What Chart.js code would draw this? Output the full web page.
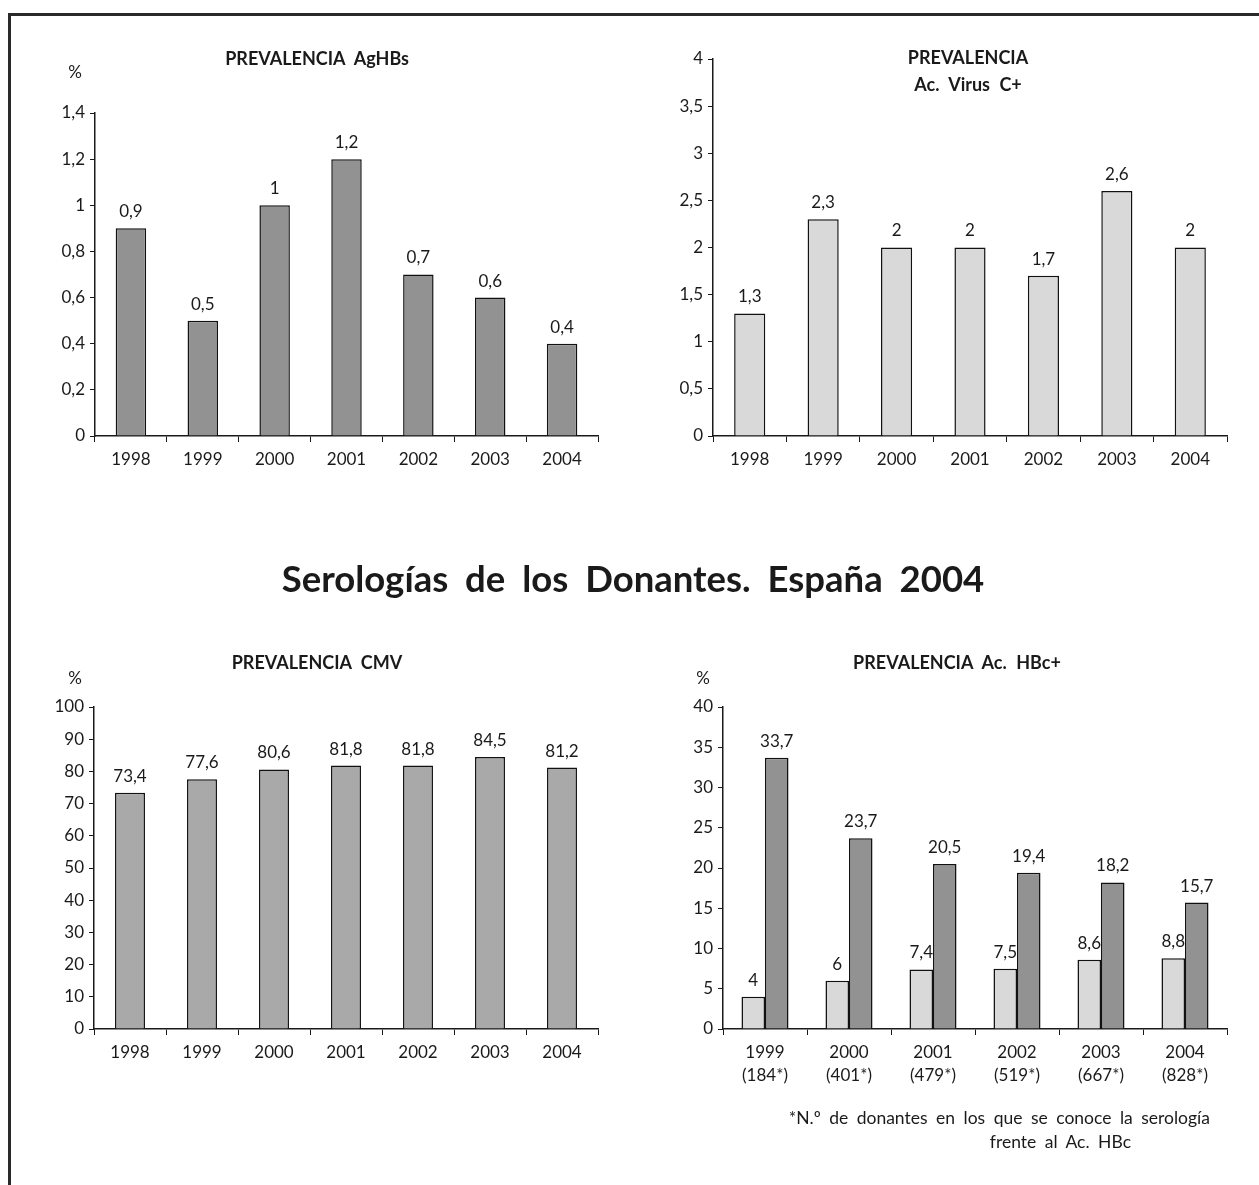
<!DOCTYPE html>
<html>
<head>
<meta charset="utf-8">
<title>Serologías de los Donantes. España 2004</title>
<script src="https://cdn.jsdelivr.net/npm/chart.js@4.4.1/dist/chart.umd.min.js"></script>
<style>
  body { margin: 0; background: #fff; font-family: Lato, sans-serif; color: #1a1a1a; }
  #page { position: relative; width: 1259px; height: 1185px; overflow: hidden; }
  #frame { position: absolute; left: 8px; top: 13px; width: 1400px; height: 1400px;
           border-left: 3px solid #2a2a2a; border-top: 3px solid #2a2a2a; }
  #page canvas { position: absolute; left: 0; top: 0; }
  .t { position: absolute; transform: translate(-50%, -50%); white-space: nowrap; text-align: center; }
  .sub { font-weight: bold; font-size: 18px; word-spacing: 5px; line-height: 27px; }
  .pct { font-size: 17px; }
  #main { font-weight: bold; font-size: 36.5px; word-spacing: 8px; }
  #note { position: absolute; left: 660px; top: 1106px; width: 550px; font-size: 17.5px;
          text-align: right; line-height: 24px; word-spacing: 4px; }
</style>
</head>
<body>
<div id="page">
  <div id="frame"></div>
  <canvas id="agChart" width="1259" height="1185"></canvas>
  <canvas id="hcvChart" width="1259" height="1185"></canvas>
  <canvas id="cmvChart" width="1259" height="1185"></canvas>
  <canvas id="hbcChart" width="1259" height="1185"></canvas>

  <div class="t sub" style="left:317px; top:58px;">PREVALENCIA AgHBs</div>
  <div class="t pct" style="left:75px; top:71px;">%</div>
  <div class="t sub" style="left:968px; top:71px;">PREVALENCIA<br>Ac. Virus C+</div>
  <div id="main" class="t" style="left:633px; top:578px;">Serologías de los Donantes. España 2004</div>
  <div class="t sub" style="left:317px; top:662px;">PREVALENCIA CMV</div>
  <div class="t pct" style="left:75px; top:677px;">%</div>
  <div class="t sub" style="left:957px; top:662px;">PREVALENCIA Ac. HBc+</div>
  <div class="t pct" style="left:703px; top:677px;">%</div>
  <div id="note">*N.º de donantes en los que se conoce la serología<br><span style="margin-right:79px">frente al Ac. HBc</span></div>
</div>

<script>
// data
const years = ['1998', '1999', '2000', '2001', '2002', '2003', '2004'];
const agHBs = [0.9, 0.5, 1, 1.2, 0.7, 0.6, 0.4];
const virusC = [1.3, 2.3, 2, 2, 1.7, 2.6, 2];
const cmv = [73.4, 77.6, 80.6, 81.8, 81.8, 84.5, 81.2];

const hbcYears = ['1999', '2000', '2001', '2002', '2003', '2004'];
const hbcDonors = ['(184*)', '(401*)', '(479*)', '(519*)', '(667*)', '(828*)'];
const hbcLight = [4, 6, 7.4, 7.5, 8.6, 8.8];
const hbcDark = [33.7, 23.7, 20.5, 19.4, 18.2, 15.7];

const DARK = '#929292';
const MID = '#a9a9a9';
const LIGHT = '#d9d9d9';
const INK = '#1a1a1a';

function fmt(v) {
  return String(Math.round(v * 10) / 10).replace('.', ',');
}

// draws the value above each bar
const valueLabels = {
  id: 'valueLabels',
  afterDatasetsDraw(chart) {
    const ctx = chart.ctx;
    ctx.save();
    ctx.font = '17px Lato';
    ctx.fillStyle = INK;
    ctx.textAlign = 'center';
    ctx.textBaseline = 'bottom';
    chart.data.datasets.forEach((ds, i) => {
      chart.getDatasetMeta(i).data.forEach((bar, j) => {
        ctx.fillText(fmt(ds.data[j]), bar.x, bar.y - 8);
      });
    });
    ctx.restore();
  }
};

// box = where the plot area should sit on the page
function barOptions(box, max, step, xHeight) {
  return {
    responsive: false,
    animation: false,
    layout: {
      padding: { left: box.left - 50, right: 1259 - box.right, top: box.top, bottom: 1185 - box.bottom - xHeight }
    },
    plugins: { legend: { display: false }, tooltip: { enabled: false } },
    scales: {
      x: {
        afterFit: s => { s.height = xHeight; },
        grid: { drawOnChartArea: false, color: INK, tickLength: 6 },
        border: { color: INK, width: 1.5 },
        ticks: { color: INK, font: { family: 'Lato', size: 17, lineHeight: 1.35 }, padding: 6, maxRotation: 0 }
      },
      y: {
        min: 0, max: max,
        afterFit: s => { s.width = 50; },
        grid: { drawOnChartArea: false, color: INK, tickLength: 5 },
        border: { color: INK, width: 1.5 },
        ticks: { stepSize: step, color: INK, font: { family: 'Lato', size: 17 }, padding: 5, callback: v => fmt(v) }
      }
    }
  };
}

function bars(data, color, bp, cp) {
  return {
    data: data,
    backgroundColor: color,
    borderColor: '#111',
    borderWidth: 1.5,
    barPercentage: bp,
    categoryPercentage: cp
  };
}

// Prevalencia AgHBs
new Chart(document.getElementById('agChart'), {
  type: 'bar',
  data: { labels: years, datasets: [bars(agHBs, DARK, 0.53, 0.8)] },
  options: barOptions({ left: 95, right: 598, top: 113, bottom: 436 }, 1.4, 0.2, 40),
  plugins: [valueLabels]
});

// Prevalencia Ac. Virus C+
new Chart(document.getElementById('hcvChart'), {
  type: 'bar',
  data: { labels: years, datasets: [bars(virusC, LIGHT, 0.53, 0.8)] },
  options: barOptions({ left: 713, right: 1227, top: 59, bottom: 436 }, 4, 0.5, 40),
  plugins: [valueLabels]
});

// Prevalencia CMV
new Chart(document.getElementById('cmvChart'), {
  type: 'bar',
  data: { labels: years, datasets: [bars(cmv, MID, 0.52, 0.8)] },
  options: barOptions({ left: 94, right: 598, top: 707, bottom: 1029 }, 100, 10, 40),
  plugins: [valueLabels]
});

// Prevalencia Ac. HBc+
new Chart(document.getElementById('hbcChart'), {
  type: 'bar',
  data: {
    labels: hbcYears.map((y, i) => [y, hbcDonors[i]]),
    datasets: [bars(hbcLight, LIGHT, 1, 0.56), bars(hbcDark, DARK, 1, 0.56)]
  },
  options: barOptions({ left: 723, right: 1227, top: 707, bottom: 1029 }, 40, 5, 64),
  plugins: [valueLabels]
});
</script>
</body>
</html>
